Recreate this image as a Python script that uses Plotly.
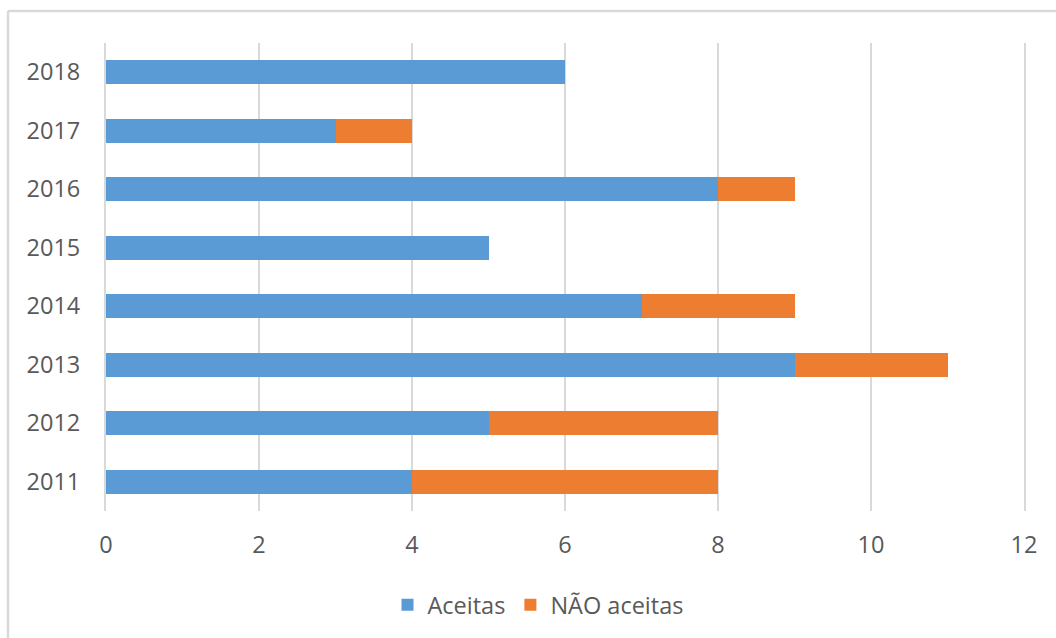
import plotly.graph_objects as go

years = ["2011", "2012", "2013", "2014", "2015", "2016", "2017", "2018"]
aceitas = [4, 5, 9, 7, 5, 8, 3, 6]
nao_aceitas = [4, 3, 2, 2, 0, 1, 1, 0]
x_ticks = [0, 2, 4, 6, 8, 10, 12]

W, H = 1056, 638
L, R, T, B = 106, 32, 43, 127
pw, ph = W - L - R, H - T - B

FONT = "Open Sans"
TXT = "#595959"
GRID = "#D9D9D9"
FS = 23.5

fig = go.Figure()
fig.add_trace(go.Bar(y=years, x=aceitas, name="Aceitas", orientation="h",
                     marker=dict(color="#5B9BD5", line=dict(width=0))))
fig.add_trace(go.Bar(y=years, x=nao_aceitas, name="NÃO aceitas", orientation="h",
                     marker=dict(color="#ED7D31", line=dict(width=0))))

def px_x(p):
    return (p - L) / pw

def px_y(p):
    return 1 - (p - T) / ph

fig.update_layout(
    width=W, height=H,
    margin=dict(l=L, r=R, t=T, b=B, autoexpand=False),
    barmode="stack", bargap=0.59,
    paper_bgcolor="white", plot_bgcolor="white",
    font=dict(family=FONT, size=FS, color=TXT),
    showlegend=True,
    legend=dict(orientation="h", x=px_x(538), xanchor="center",
                y=px_y(605), yanchor="middle",
                font=dict(family=FONT, size=FS, color=TXT),
                itemclick=False, traceorder="normal", itemwidth=30),
    xaxis=dict(range=[0, 12], tickvals=x_ticks, showgrid=True, gridcolor=GRID,
               gridwidth=2, zeroline=False, showline=False, ticks="",
               ticklabelstandoff=17, tickfont=dict(family=FONT, size=FS, color=TXT),
               fixedrange=True),
    yaxis=dict(type="category", categoryorder="array", categoryarray=years,
               showgrid=False, zeroline=False, showline=True, mirror=True,
               linecolor=GRID, linewidth=2, ticks="",
               ticklabelstandoff=19, tickfont=dict(family=FONT, size=FS, color=TXT),
               fixedrange=True),
    shapes=[
        dict(type="line", xref="paper", yref="paper",
             x0=px_x(8), x1=px_x(8), y0=px_y(11), y1=px_y(660),
             line=dict(color=GRID, width=2.5)),
        dict(type="line", xref="paper", yref="paper",
             x0=px_x(8), x1=px_x(1080), y0=px_y(11), y1=px_y(11),
             line=dict(color=GRID, width=2.5)),
    ],
)

fig.write_html("out.html")
